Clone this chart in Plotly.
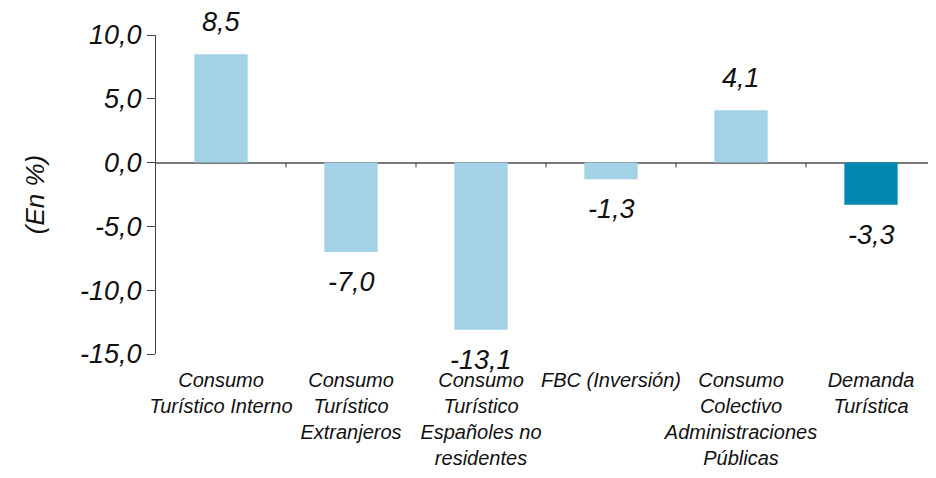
import plotly.graph_objects as go

categories = [
    "Consumo<br>Turístico Interno",
    "Consumo<br>Turístico<br>Extranjeros",
    "Consumo<br>Turístico<br>Españoles no<br>residentes",
    "FBC (Inversión)",
    "Consumo<br>Colectivo<br>Administraciones<br>Públicas",
    "Demanda<br>Turística",
]
values = [8.5, -7.0, -13.1, -1.3, 4.1, -3.3]
bar_colors = ["#A3D1E6", "#A3D1E6", "#A3D1E6", "#A3D1E6", "#A3D1E6", "#0088B1"]
y_ticks = [10, 5, 0, -5, -10, -15]
y_tick_labels = ["10,0", "5,0", "0,0", "-5,0", "-10,0", "-15,0"]

FONT = "Liberation Sans"
fig = go.Figure()
fig.add_trace(go.Bar(
    x=list(range(len(categories))),
    y=values,
    marker=dict(color=bar_colors, line=dict(width=0)),
    width=0.41,
    hoverinfo="skip",
))

for i, v in enumerate(values):
    fig.add_annotation(
        x=i, y=v, xref="x", yref="y",
        text=f"{v:.1f}".replace(".", ","),
        showarrow=False,
        yanchor="middle",
        yshift=32 if v >= 0 else -30,
        font=dict(family=FONT, size=27, color="#111111", style="italic"),
    )

# small ticks on the zero line at category boundaries
for i in range(len(categories) - 1):
    fig.add_shape(
        type="line", xref="x", yref="y",
        x0=i + 0.5, x1=i + 0.5,
        ysizemode="pixel", yanchor=0, y0=0, y1=-5,
        line=dict(color="#555555", width=1.2),
    )

fig.update_layout(
    width=928, height=462,
    margin=dict(l=148, r=0, t=27, b=116),
    plot_bgcolor="white", paper_bgcolor="white",
    showlegend=False,
    font=dict(family=FONT, color="#111111"),
)
fig.update_xaxes(
    range=[-0.5, 5.5],
    tickmode="array",
    tickvals=list(range(len(categories))),
    ticktext=categories,
    tickangle=0,
    automargin=False,
    showline=False, showgrid=False, zeroline=False,
    ticks="",
    ticklabelstandoff=12,
    tickfont=dict(family=FONT, size=20, color="#111111", style="italic"),
)
fig.update_yaxes(
    range=[-15, 10],
    tickmode="array",
    tickvals=y_ticks,
    ticktext=y_tick_labels,
    automargin=False,
    ticks="outside", ticklen=8, tickcolor="#444444", tickwidth=1,
    showline=True, linecolor="#444444", linewidth=1,
    showgrid=False,
    zeroline=True, zerolinecolor="#7A7A7A", zerolinewidth=2,
    tickfont=dict(family=FONT, size=27, color="#111111", style="italic"),
    title=dict(text="(En %)", standoff=27,
               font=dict(family=FONT, size=26, color="#111111", style="italic")),
)

fig.write_html("out.html")
